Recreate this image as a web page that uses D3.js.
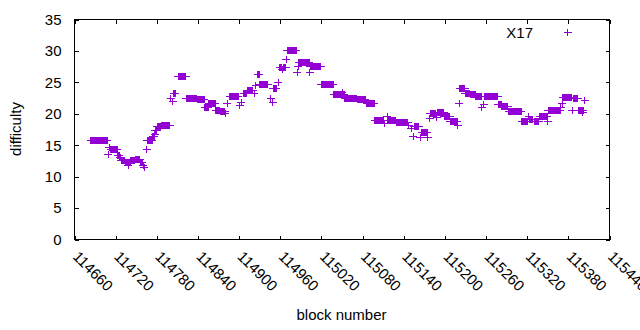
<!DOCTYPE html>
<html><head><meta charset="utf-8">
<script src="https://cdn.jsdelivr.net/npm/d3@7/dist/d3.min.js"></script>
<style>
body{margin:0;background:#fff}
text{font-family:"Liberation Sans",Arial,sans-serif;font-size:15px;fill:#000}
</style>
</head><body>
<svg id="chart" width="640" height="330"></svg>
<script>
const seriesName = "X17";
const xLabel = "block number";
const yLabel = "difficulty";
const xTickValues = [114660,114720,114780,114840,114900,114960,115020,115080,115140,115200,115260,115320,115380,115440];
const yTickValues = [0,5,10,15,20,25,30,35];
// runs of consecutive blocks sharing the same difficulty
const runStart = [114684,114709,114711,114713,114723,114726,114728,114734,114738,114739,114742,114749,114756,114760,114762,114765,114766,114774,114777,114778,114781,114787,114800,114803,114805,114811,114823,114839,114850,114856,114866,114873,114880,114883,114886,114901,114903,114907,114912,114922,114924,114927,114930,114946,114949,114950,114957,114959,114963,114964,114969,114970,114985,114986,114987,115003,115004,115020,115038,115050,115051,115054,115072,115086,115098,115112,115116,115117,115129,115147,115151,115154,115155,115164,115166,115175,115178,115179,115188,115189,115199,115208,115219,115221,115222,115230,115237,115245,115254,115257,115258,115278,115283,115293,115312,115322,115323,115330,115338,115350,115351,115369,115371,115372,115386,115387,115395,115401,115402,115404];
const runEnd   = [114708,114709,114711,114722,114725,114727,114733,114737,114738,114741,114748,114755,114759,114760,114762,114765,114773,114776,114777,114780,114786,114799,114800,114803,114807,114822,114838,114849,114855,114865,114872,114879,114880,114883,114899,114901,114903,114911,114920,114922,114924,114929,114942,114946,114949,114954,114957,114962,114963,114968,114969,114983,114985,114986,115002,115003,115019,115037,115049,115050,115053,115071,115084,115097,115111,115112,115116,115128,115146,115147,115151,115154,115162,115164,115174,115175,115178,115187,115188,115198,115207,115218,115219,115221,115229,115236,115244,115253,115254,115257,115277,115282,115292,115311,115320,115322,115328,115337,115349,115350,115368,115369,115371,115384,115386,115394,115400,115401,115402,115404];
const runDifficulty = [15.7,13.5,14.7,14.3,13.4,13.1,12.6,12.3,11.8,12.3,12.6,12.8,12.3,11.8,11.5,14.3,15.8,16.4,16.7,17.3,17.9,18.2,22.5,22.0,23.2,26.0,22.4,22.2,20.95,21.6,20.6,20.4,20.1,21.6,22.75,21.3,21.8,23.2,23.7,23.2,24.5,26.2,24.6,22.4,21.8,24.1,25.0,27.4,27.0,27.4,28.7,30.0,26.5,27.6,28.1,26.5,27.6,24.6,23.0,23.4,23.0,22.4,22.2,21.6,18.9,18.5,19.5,19.0,18.55,18.1,17.6,16.4,17.9,16.3,17.0,16.3,19.2,20.1,19.4,20.25,19.5,18.7,18.1,21.6,24.1,23.3,23.1,22.7,21.05,21.4,22.7,21.5,21.2,20.4,18.8,19.5,19.1,18.7,19.5,18.7,20.6,20.95,21.7,22.55,20.6,22.4,20.6,20.25,20.6,22.1];

const points = [];
runStart.forEach((s, i) => {
  for (let b = s; b <= runEnd[i]; b++) points.push({block: b, difficulty: runDifficulty[i]});
});

const color = "#9400d3";
const L = 74.5, R = 609.5, T = 19.5, B = 239.5;
const svg = d3.select("#chart");
const x = d3.scaleLinear().domain([114660, 115440]).range([L, R]);
const y = d3.scaleLinear().domain([0, 35]).range([B, T]);

const plusPath = "M-4,0H4M0,-3.5V3.5";

// axes with inward ticks
const gx = svg.append("g").attr("transform", `translate(0,${B})`)
  .call(d3.axisBottom(x).tickValues(xTickValues).tickFormat(d3.format("d")).tickSizeInner(-4).tickSizeOuter(0));
gx.select(".domain").remove();
gx.selectAll("text").attr("y", 0).attr("dy", null).attr("text-anchor", "start")
  .attr("transform", "translate(-3,18) rotate(45)").style("font-size", "15px").style("font-family", null);

const gxt = svg.append("g").attr("transform", `translate(0,${T})`)
  .call(d3.axisTop(x).tickValues(xTickValues).tickFormat("").tickSizeInner(-4).tickSizeOuter(0));
gxt.select(".domain").remove();

const gy = svg.append("g").attr("transform", `translate(${L},0)`)
  .call(d3.axisLeft(y).tickValues(yTickValues).tickSizeInner(-4).tickSizeOuter(0).tickPadding(13));
gy.select(".domain").remove();
gy.selectAll("text").style("font-size", "15px").style("font-family", null);

const gyr = svg.append("g").attr("transform", `translate(${R},0)`)
  .call(d3.axisRight(y).tickValues(yTickValues).tickFormat("").tickSizeInner(-4).tickSizeOuter(0));
gyr.select(".domain").remove();

svg.selectAll(".tick line").attr("stroke", "#000").attr("shape-rendering", "crispEdges");

// frame
svg.append("rect").attr("x", L).attr("y", T).attr("width", R - L).attr("height", B - T)
  .attr("fill", "none").attr("stroke", "#000").attr("stroke-width", 1).attr("shape-rendering", "crispEdges");

// points
svg.append("g").selectAll("path").data(points).join("path")
  .attr("transform", d => `translate(${x(d.block)},${y(d.difficulty)})`)
  .attr("d", plusPath).attr("stroke", color).attr("stroke-width", 1).attr("fill", "none")
  .attr("shape-rendering", "crispEdges");

// axis titles
svg.append("text").attr("text-anchor", "middle").attr("transform", "translate(21,129) rotate(-90)").text(yLabel);
svg.append("text").attr("text-anchor", "middle").attr("x", 341.5).attr("y", 320).text(xLabel);

// legend
svg.append("text").attr("text-anchor", "end").attr("x", 533).attr("y", 37.5).text(seriesName);
svg.append("path").attr("transform", "translate(567.5,32.5)").attr("d", plusPath)
  .attr("stroke", color).attr("stroke-width", 1).attr("fill", "none").attr("shape-rendering", "crispEdges");
</script>
</body></html>
